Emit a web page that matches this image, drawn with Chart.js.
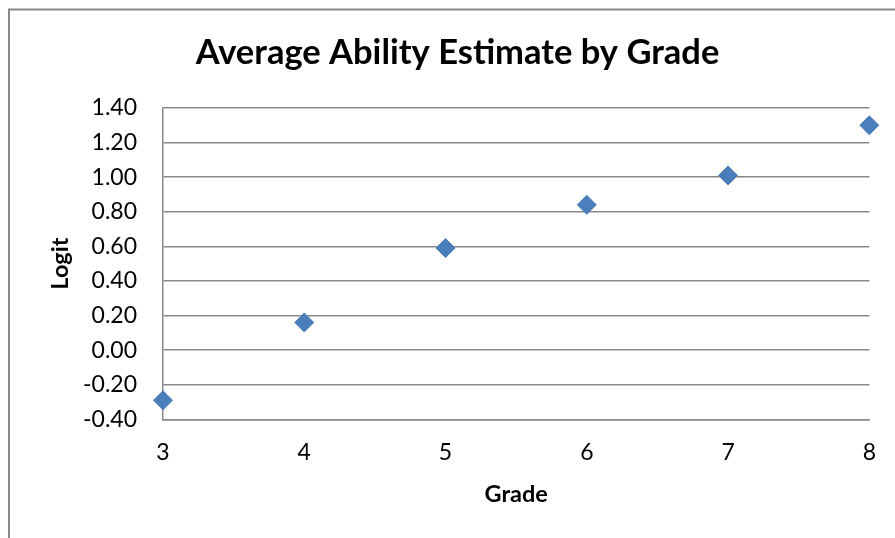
<!DOCTYPE html>
<html>
<head>
<meta charset="utf-8">
<title>Average Ability Estimate by Grade</title>
<script src="https://cdn.jsdelivr.net/npm/chart.js@4/dist/chart.umd.min.js"></script>
<style>
  html, body { margin: 0; padding: 0; background: #ffffff; }
  #wrap { width: 895px; height: 538px; }
</style>
</head>
<body>
<div id="wrap"><canvas id="chart" width="895" height="538"></canvas></div>
<script>
// Average logit ability estimate for each grade
const grades = [3, 4, 5, 6, 7, 8];
const logits = [-0.29, 0.16, 0.59, 0.84, 1.01, 1.30];

// Axis ticks
const xTicks = [3, 4, 5, 6, 7, 8];
const yTicks = [-0.40, -0.20, 0.00, 0.20, 0.40, 0.60, 0.80, 1.00, 1.20, 1.40];

const titleText = 'Average Ability Estimate by Grade';
const xTitle = 'Grade';
const yTitle = 'Logit';

const points = grades.map((g, i) => ({ x: g, y: logits[i] }));

const FONT = 'Lato, "Open Sans", "Liberation Sans", sans-serif';
const LINE = '#898989';

// Frame around the chart object (left and top edges)
const framePlugin = {
  id: 'frame',
  beforeDraw(chart) {
    const ctx = chart.ctx;
    ctx.save();
    ctx.strokeStyle = LINE;
    ctx.lineWidth = 2;
    ctx.beginPath();
    ctx.moveTo(9, chart.height);
    ctx.lineTo(9, 9.5);
    ctx.lineTo(chart.width, 9.5);
    ctx.stroke();
    ctx.restore();
  }
};

new Chart(document.getElementById('chart'), {
  type: 'scatter',
  data: {
    datasets: [{
      label: yTitle,
      data: points,
      pointStyle: 'rectRot',
      pointRadius: 9.5,
      pointHoverRadius: 9.5,
      borderWidth: 1,
      backgroundColor: '#4A7EBB',
      borderColor: '#4A7EBB',
      clip: false
    }]
  },
  options: {
    responsive: false,
    animation: false,
    devicePixelRatio: 1,
    layout: { padding: { left: 20, right: 0, top: 0, bottom: 0 } },
    plugins: {
      legend: { display: false },
      tooltip: { enabled: false },
      title: {
        display: true,
        text: titleText,
        color: '#000000',
        font: { family: FONT, size: 34.5, weight: 'bold' },
        padding: { top: 32, bottom: 34.6 }
      }
    },
    scales: {
      x: {
        type: 'linear',
        position: 'bottom',
        min: 3,
        max: 8,
        afterBuildTicks(scale) { scale.ticks = xTicks.map(v => ({ value: v })); },
        afterFit(scale) { scale.height = 118.7; },
        grid: { display: false, drawTicks: false },
        border: { display: true, color: LINE, width: 1.5 },
        ticks: {
          color: '#000000',
          padding: 19,
          font: { family: FONT, size: 23 },
          callback: v => String(v)
        },
        title: {
          display: true,
          text: xTitle,
          color: '#000000',
          font: { family: FONT, size: 23.5, weight: 'bold' },
          padding: { top: 0, bottom: 29 }
        }
      },
      y: {
        type: 'linear',
        position: 'left',
        min: -0.4,
        max: 1.4,
        afterBuildTicks(scale) { scale.ticks = yTicks.map(v => ({ value: v })); },
        afterFit(scale) { scale.width = 143; },
        grid: { display: true, color: LINE, lineWidth: 1.5, drawTicks: false },
        border: { display: true, color: LINE, width: 1.5 },
        ticks: {
          color: '#000000',
          padding: 26,
          font: { family: FONT, size: 23 },
          callback: v => (Math.abs(v) < 1e-9 ? 0 : v).toFixed(2)
        },
        title: {
          display: true,
          text: yTitle,
          color: '#000000',
          font: { family: FONT, size: 23.5, weight: 'bold' },
          padding: { top: 26, bottom: 0 }
        }
      },
      // empty right-hand margin box
      yRight: {
        type: 'linear',
        position: 'right',
        display: true,
        afterFit(scale) { scale.width = 24; },
        grid: { display: false, drawTicks: false },
        border: { display: false },
        ticks: { display: false }
      }
    }
  },
  plugins: [framePlugin]
});
</script>
</body>
</html>
